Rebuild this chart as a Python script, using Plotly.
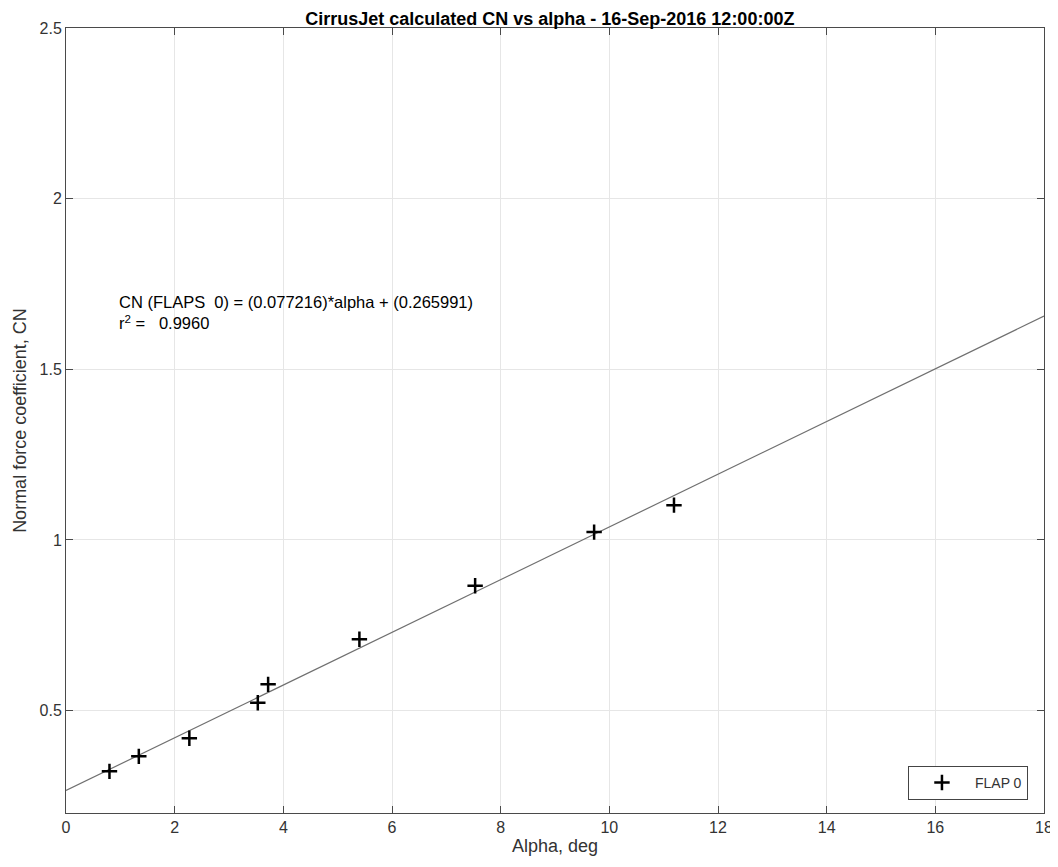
import plotly.graph_objects as go

# Data
alpha_deg = [0.80, 1.34, 2.27, 3.53, 3.72, 5.40, 7.53, 9.72, 11.19]
cn_values = [0.322, 0.366, 0.419, 0.523, 0.577, 0.709, 0.866, 1.023, 1.102]
fit_slope = 0.077216
fit_intercept = 0.265991
fit_r2 = 0.9960
fit_x_range = [0, 18]
x_ticks = [0, 2, 4, 6, 8, 10, 12, 14, 16, 18]
y_ticks = [0.5, 1, 1.5, 2, 2.5]
y_tick_labels = ["0.5", "1", "1.5", "2", "2.5"]

fit_y = [fit_slope * x + fit_intercept for x in fit_x_range]

font_family = "Liberation Sans, Arial, sans-serif"
axis_color = "#4a4a4a"
text_color = "#333333"

fig = go.Figure()
fig.add_trace(go.Scatter(
    x=fit_x_range, y=fit_y, mode="lines",
    line=dict(color="#707070", width=1.2),
    showlegend=False, hoverinfo="skip",
))
fig.add_trace(go.Scatter(
    x=alpha_deg, y=cn_values, mode="markers", name="FLAP 0",
    marker=dict(symbol="cross-thin", size=11, line=dict(color="black", width=2.5), color="black"),
))

fig.add_annotation(
    x=0.052, y=0.665, xref="paper", yref="paper", xanchor="left", yanchor="top",
    text=f"CN (FLAPS  0) = ({fit_slope:.6f})*alpha + ({fit_intercept:.6f})<br>r<sup>2</sup> =   {fit_r2:.4f}",
    showarrow=False, align="left",
    font=dict(family=font_family, size=16.5, color="black"),
)

axis_common = dict(
    showgrid=True, gridcolor="#e6e6e6", gridwidth=1,
    showline=True, linecolor=axis_color, linewidth=1, mirror="ticks",
    ticks="inside", ticklen=7, tickcolor=axis_color,
    tickfont=dict(family=font_family, size=16, color=text_color),
    zeroline=False, automargin=False,
)

fig.update_layout(
    width=1050, height=859,
    margin=dict(l=58, r=14, t=20, b=54),
    paper_bgcolor="white", plot_bgcolor="white",
    title=dict(text="<b>CirrusJet calculated CN vs alpha - 16-Sep-2016 12:00:00Z</b>",
               x=0.516, xanchor="center", y=0.988, yanchor="middle",
               font=dict(family=font_family, size=18, color="black")),
    xaxis=dict(range=[0, 18], tickvals=x_ticks,
               title=dict(text="Alpha, deg", font=dict(family=font_family, size=18, color=text_color), standoff=4),
               **axis_common),
    yaxis=dict(range=[0.2, 2.5], tickvals=y_ticks, ticktext=y_tick_labels,
               title=dict(text="Normal force coefficient, CN", font=dict(family=font_family, size=18, color=text_color), standoff=8),
               **axis_common),
    legend=dict(x=0.9836, y=0.0166, xanchor="right", yanchor="bottom",
                bgcolor="white", bordercolor="#444444", borderwidth=1,
                font=dict(family=font_family, size=14, color=text_color),
                itemwidth=56),
    showlegend=True,
)

fig.write_html("out.html")
